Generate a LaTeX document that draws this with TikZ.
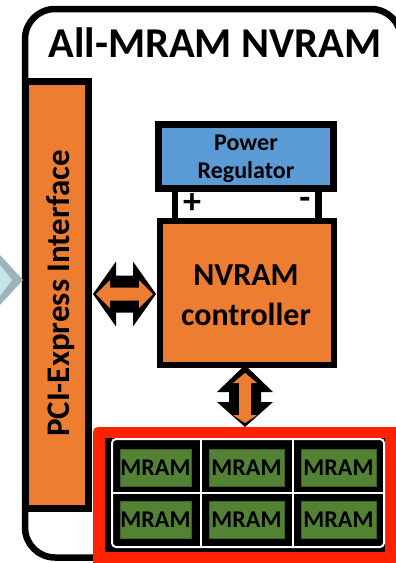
\documentclass[tikz,border=0pt]{standalone}
\usepackage{fontspec}
\setmainfont{Carlito}
\usetikzlibrary{calc}
\definecolor{orng}{RGB}{237,125,49}
\definecolor{blu}{RGB}{91,155,213}
\definecolor{redd}{RGB}{255,34,0}
\definecolor{grn}{RGB}{84,130,53}
\definecolor{chevgray}{RGB}{158,180,184}
\definecolor{chevcyan}{RGB}{196,228,231}
\begin{document}
\begin{tikzpicture}[x=1pt,y=-1pt,
  box/.style={draw=black, line width=7pt, inner sep=0pt, outer sep=0pt},
  lbl/.style={inner sep=0pt, anchor=base},
  cell/.style={fill=grn, draw=grn!75!black, line width=0.6pt, inner sep=0pt, outer sep=0pt,
    minimum height=37pt, font=\bfseries\fontsize{24}{24}\selectfont},
  term/.style={line width=6.5pt, line cap=rect},
  gridline/.style={white, line width=2pt}]
\useasboundingbox (0,0) rectangle (396,563);
\clip (0,0) rectangle (396,563);
\fill[white] (0,0) rectangle (396,563);
% outer frame
\draw[line width=6.5pt, rounded corners=30pt] (25,9) rectangle (401,557.5);
\node[lbl, font=\bfseries\fontsize{42.5}{42.5}\selectfont] (title) at (215,57) {All-MRAM NVRAM};
% PCIe interface
\node[box, fill=orng, minimum width=63.5pt, minimum height=426.5pt] (pcie) at (56.75,294.75) {};
\node[lbl, rotate=90, font=\bfseries\fontsize{33}{33}\selectfont] (pcietxt) at (69,293.5) {PCI-Express Interface};
% chevron from host
\fill[chevgray] (0,255) -- (23,280) -- (0,305) -- cycle;
\fill[chevcyan] (0,265) -- (12,280) -- (0,296) -- cycle;
% power regulator
\node[box, fill=blu, minimum width=175pt, minimum height=64pt] (pwr) at (246,156.5) {};
\node[lbl, font=\bfseries\fontsize{24}{24}\selectfont] (pwr1) at (246,150) {Power};
\node[lbl, font=\bfseries\fontsize{24}{24}\selectfont] (pwr2) at (246,178) {Regulator};
% controller
\node[box, line width=6.5pt, fill=orng, minimum width=174pt, minimum height=144pt] (ctrl) at (247,293) {};
\node[lbl, font=\bfseries\fontsize{32}{32}\selectfont] (ctrl1) at (246,285) {NVRAM};
\node[lbl, font=\bfseries\fontsize{32}{32}\selectfont] (ctrl2) at (246,325) {controller};
% terminals
\draw[term] ([xshift=16.5pt]pwr.south west) -- ([xshift=16.5pt]pwr.south west |- ctrl.north);
\draw[term] ([xshift=-15pt]pwr.south east) -- ([xshift=-15pt]pwr.south east |- ctrl.north);
\node[font=\bfseries\fontsize{36}{36}\selectfont, inner sep=0pt] (plus) at (192,204) {+};
\node[font=\bfseries\fontsize{36}{36}\selectfont, inner sep=0pt] (minus) at (305,203) {-};
% horizontal double arrow
\coordinate (harr) at ([xshift=4.5pt,yshift=0.75pt]pcie.east);
\begin{scope}[shift={(harr)}]
  \fill[black] (0,0) -- (23,-32.5) -- (23,-18.5) -- (40,-18.5) -- (40,-32.5) -- (63,0)
    -- (40,32.5) -- (40,18.5) -- (23,18.5) -- (23,32.5) -- cycle;
  \fill[orng] (3,0) -- (17,-14) -- (17,-6.5) -- (46,-6.5) -- (46,-14) -- (60,0)
    -- (46,14) -- (46,6.5) -- (17,6.5) -- (17,14) -- cycle;
\end{scope}
% array
\node[fill=redd, rounded corners=5pt, inner sep=0pt, outer sep=0pt, anchor=north west,
  minimum width=317pt, minimum height=148pt] (arr) at (93,427) {};
\fill[black] (105,438) rectangle (385,552);
\draw[gridline, rounded corners=4pt] (112,439) rectangle (384,547);
\draw[gridline] (200.7,439) -- (200.7,547);
\draw[gridline] (292.7,439) -- (292.7,547);
\draw[gridline] (112,493) -- (384,493);
\node[cell, minimum width=71pt] (m11) at (155.5,467.5) {MRAM};
\node[cell, minimum width=75pt] (m12) at (246.5,467.5) {MRAM};
\node[cell, minimum width=75pt] (m13) at (338.5,467.5) {MRAM};
\node[cell, minimum width=71pt] (m21) at (155.5,520) {MRAM};
\node[cell, minimum width=75pt] (m22) at (246.5,520) {MRAM};
\node[cell, minimum width=75pt] (m23) at (338.5,520) {MRAM};
% vertical double arrow
\coordinate (varr) at ([xshift=-2pt]ctrl.south);
\begin{scope}[shift={(varr)}]
  \fill[black] (0,0) -- (28,27) -- (16,27) -- (16,37) -- (28,37) -- (0,62)
    -- (-28,37) -- (-16,37) -- (-16,27) -- (-28,27) -- cycle;
  \fill[orng] (0,8) -- (12,18) -- (6,18) -- (6,50) -- (12,50) -- (0,58)
    -- (-12,50) -- (-6,50) -- (-6,18) -- (-12,18) -- cycle;
\end{scope}
\end{tikzpicture}
\end{document}
